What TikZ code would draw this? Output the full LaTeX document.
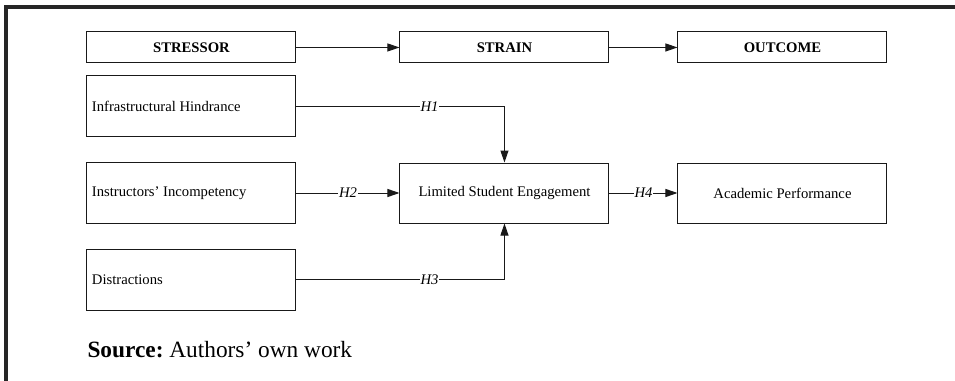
\documentclass[tikz,border=0pt]{standalone}
\usepackage{fontspec}
\setmainfont{Liberation Serif}
\usetikzlibrary{positioning, arrows.meta, calc}

\begin{document}
\begin{tikzpicture}[>={Triangle[length=9pt,width=6pt]}, node distance=234.75pt, on grid,
    line width=0.75pt, draw=black!90,
    head/.style={draw, minimum width=156.75pt, minimum height=23.25pt, inner sep=0pt,
      font=\fontsize{11}{13}\selectfont\bfseries},
    factor/.style={draw, text width=149.25pt, inner xsep=3.75pt, inner ysep=0pt,
      minimum height=45.75pt, align=flush left, font=\fontsize{11}{13}\selectfont},
    result/.style={draw, minimum width=156.75pt, minimum height=45pt, inner sep=0pt,
      font=\fontsize{11}{13}\selectfont},
    hyp/.style={fill=white, inner sep=0.6pt, font=\fontsize{11}{13}\selectfont\itshape}]
  \frenchspacing
  \useasboundingbox (0,0) rectangle (716.25pt,-285.75pt);
  % frame
  \draw[line width=2.6pt, black!85] (716.25pt,-5.25pt) -- (4.5pt,-5.25pt) -- (4.5pt,-285.75pt);

  \node[head] (stressor) at (143.6pt,-35.6pt) {STRESSOR};
  \node[head] (strain) [right=of stressor] {STRAIN};
  \node[head] (outcome) [right=208.5pt of strain] {OUTCOME};
  \node[factor] (infra) [below=44.25pt of stressor] {Infrastructural Hindrance};
  \node[factor] (instr) [below=64.9pt of infra] {Instructors’ Incompetency};
  \node[factor] (distr) [below=64.9pt of instr] {Distractions};
  \node[result] (lse) [right=of instr] {Limited Student Engagement};
  \node[result] (acad) [right=208.5pt of lse] {Academic Performance};

  \path[->]
  (stressor) edge (strain)
  (strain) edge (outcome)
  (instr) edge node[hyp] {H2} (lse)
  (lse) edge node[hyp] {H4} (acad);
  \draw[->] (infra.east) -| node[hyp, pos=0.32] {H1} (lse.north);
  \draw[->] (distr.east) -| node[hyp, pos=0.32] {H3} (lse.south);

  \node[anchor=base west, inner sep=0pt, font=\fontsize{17.5}{20}\selectfont] (source)
    at (65.25pt,-267.75pt) {\textbf{Source:} Authors’ own work};
\end{tikzpicture}
\end{document}
